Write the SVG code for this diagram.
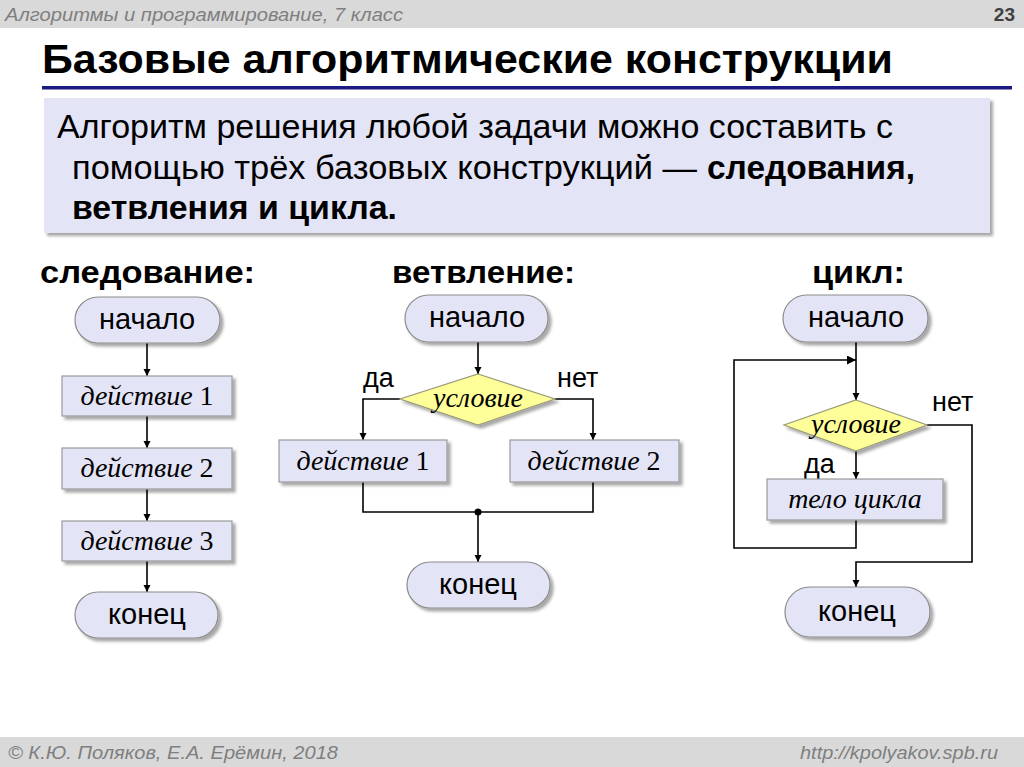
<svg xmlns="http://www.w3.org/2000/svg" width="1024" height="767" viewBox="0 0 1024 767">
<defs>
<style>
.band{fill:#d9d9d9}
.hdr{font-family:"Liberation Sans",Arial,sans-serif;font-style:italic;fill:#7f7f7f;font-size:18px}
.title{font-family:"Liberation Sans",Arial,sans-serif;font-weight:bold;font-size:41px;fill:#000}
.body{font-family:"Liberation Sans",Arial,sans-serif;font-size:33px;fill:#000}
.colh{font-family:"Liberation Sans",Arial,sans-serif;font-weight:bold;font-size:32px;fill:#000}
.term{fill:#e4e4f7;stroke:#8c8c8c;stroke-width:1.2}
.proc{fill:#e4e4f7;stroke:#9a9a9a;stroke-width:1.2}
.dec{fill:#ffff99;stroke:#9a9a7a;stroke-width:1.2}
.tt{font-family:"Liberation Sans",Arial,sans-serif;font-size:29px;fill:#000;text-anchor:middle}
.pt{font-family:"Liberation Serif","Times New Roman",serif;font-style:italic;font-size:28px;fill:#000;text-anchor:middle}
.num{font-style:normal}
.lbl{font-family:"Liberation Sans",Arial,sans-serif;font-size:27px;fill:#000}
.ln{fill:none;stroke:#000;stroke-width:1.6}
</style>
<filter id="sh" x="-10%" y="-20%" width="130%" height="150%">
<feDropShadow dx="3" dy="3" stdDeviation="1.5" flood-color="#000" flood-opacity="0.35"/>
</filter>
<marker id="ar" viewBox="0 0 10 10" refX="10" refY="5" markerWidth="7" markerHeight="8" markerUnits="userSpaceOnUse" orient="auto">
<path d="M0,0 L10,5 L0,10 z" fill="#000"/>
</marker>
<marker id="ah" viewBox="0 0 10 10" refX="10" refY="5" markerWidth="10" markerHeight="9" markerUnits="userSpaceOnUse" orient="auto">
<path d="M0,0 L10,5 L0,10 z" fill="#000"/>
</marker>
</defs>
<rect width="1024" height="767" fill="#fff"/>
<g id="header">
<rect class="band" x="0" y="0" width="1024" height="28"/>
<text class="hdr" x="5" y="21" textLength="398" lengthAdjust="spacingAndGlyphs">Алгоритмы и программирование, 7 класс</text>
<text x="1015" y="21" font-family="'Liberation Sans',Arial,sans-serif" font-weight="bold" font-size="19" fill="#404040" text-anchor="end">23</text>
</g>
<g id="title">
<text class="title" x="42" y="73" textLength="851" lengthAdjust="spacingAndGlyphs">Базовые алгоритмические конструкции</text>
<rect x="42" y="86" width="970" height="3.5" fill="#1a1a80"/>
</g>
<g id="intro">
<rect x="44" y="98" width="946" height="135" fill="#e4e4f7" filter="url(#sh)"/>
<text class="body" x="57" y="138" textLength="836" lengthAdjust="spacingAndGlyphs">Алгоритм решения любой задачи можно составить с</text>
<text class="body" x="72" y="179" textLength="625" lengthAdjust="spacingAndGlyphs">помощью трёх базовых конструкций —</text>
<text class="body" x="707" y="179" font-weight="bold" textLength="208" lengthAdjust="spacingAndGlyphs">следования,</text>
<text class="body" x="72" y="219" font-weight="bold" textLength="325" lengthAdjust="spacingAndGlyphs">ветвления и цикла.</text>
</g>
<g id="headings">
<text class="colh" x="40" y="283" textLength="215" lengthAdjust="spacingAndGlyphs">следование:</text>
<text class="colh" x="392" y="283" textLength="183" lengthAdjust="spacingAndGlyphs">ветвление:</text>
<text class="colh" x="812" y="283" textLength="93" lengthAdjust="spacingAndGlyphs">цикл:</text>
</g>
<g id="connectors">
<path class="ln" d="M147,343 V376" marker-end="url(#ar)"/>
<path class="ln" d="M147,416 V448" marker-end="url(#ar)"/>
<path class="ln" d="M147,489 V521" marker-end="url(#ar)"/>
<path class="ln" d="M147,561 V592" marker-end="url(#ar)"/>
<path class="ln" d="M478,342 V374" marker-end="url(#ar)"/>
<path class="ln" d="M400,399 H363 V440" marker-end="url(#ar)"/>
<path class="ln" d="M555,399 H593 V440" marker-end="url(#ar)"/>
<path class="ln" d="M363,482 V512 H593 V482"/>
<circle cx="478" cy="512" r="3.5" fill="#000"/>
<path class="ln" d="M478,512 V562" marker-end="url(#ar)"/>
<path class="ln" d="M856,342 V400" marker-end="url(#ar)"/>
<path class="ln" d="M856,451 V479" marker-end="url(#ar)"/>
<path class="ln" d="M856,520 V548 H734 V360 H856" marker-end="url(#ah)"/>
<path class="ln" d="M927,425 H972 V562 H856 V587" marker-end="url(#ar)"/>
</g>
<g id="labels">
<text class="lbl" x="363" y="387">да</text>
<text class="lbl" x="557" y="387">нет</text>
<text class="lbl" x="932" y="411">нет</text>
<text class="lbl" x="804" y="473">да</text>
</g>
<g id="s-start"><rect class="term" x="75" y="297" width="145" height="46" rx="23" filter="url(#sh)"/><text class="tt" x="147" y="329">начало</text></g>
<g id="s-act1"><rect class="proc" x="62" y="376" width="170" height="40" filter="url(#sh)"/><text class="pt" x="147" y="405">действие <tspan class="num">1</tspan></text></g>
<g id="s-act2"><rect class="proc" x="62" y="448" width="170" height="41" filter="url(#sh)"/><text class="pt" x="147" y="477">действие <tspan class="num">2</tspan></text></g>
<g id="s-act3"><rect class="proc" x="62" y="521" width="170" height="40" filter="url(#sh)"/><text class="pt" x="147" y="550">действие <tspan class="num">3</tspan></text></g>
<g id="s-end"><rect class="term" x="75" y="592" width="143" height="46" rx="23" filter="url(#sh)"/><text class="tt" x="147" y="624">конец</text></g>
<g id="b-start"><rect class="term" x="405" y="295" width="143" height="47" rx="23.5" filter="url(#sh)"/><text class="tt" x="477" y="327">начало</text></g>
<g id="b-cond"><polygon class="dec" points="478,374 555,399 478,425 400,399" filter="url(#sh)"/><text class="pt" x="478" y="407">условие</text></g>
<g id="b-act1"><rect class="proc" x="279" y="440" width="168" height="42" filter="url(#sh)"/><text class="pt" x="363" y="470">действие <tspan class="num">1</tspan></text></g>
<g id="b-act2"><rect class="proc" x="510" y="440" width="169" height="42" filter="url(#sh)"/><text class="pt" x="594" y="470">действие <tspan class="num">2</tspan></text></g>
<g id="b-end"><rect class="term" x="407" y="562" width="143" height="46" rx="23" filter="url(#sh)"/><text class="tt" x="478" y="594">конец</text></g>
<g id="c-start"><rect class="term" x="783" y="295" width="145" height="47" rx="23.5" filter="url(#sh)"/><text class="tt" x="856" y="327">начало</text></g>
<g id="c-cond"><polygon class="dec" points="856,400 927,425 856,451 784,425" filter="url(#sh)"/><text class="pt" x="856" y="433">условие</text></g>
<g id="c-body"><rect class="proc" x="767" y="479" width="176" height="41" filter="url(#sh)"/><text class="pt" x="855" y="508">тело цикла</text></g>
<g id="c-end"><rect class="term" x="785" y="587" width="145" height="50" rx="25" filter="url(#sh)"/><text class="tt" x="857" y="621">конец</text></g>
<g id="footer">
<rect class="band" x="0" y="737" width="1024" height="30"/>
<text class="hdr" x="8" y="759" textLength="330" lengthAdjust="spacingAndGlyphs">© К.Ю. Поляков, Е.А. Ерёмин, 2018</text>
<text class="hdr" x="998" y="759" text-anchor="end" textLength="198" lengthAdjust="spacingAndGlyphs">http://kpolyakov.spb.ru</text>
</g>
</svg>
